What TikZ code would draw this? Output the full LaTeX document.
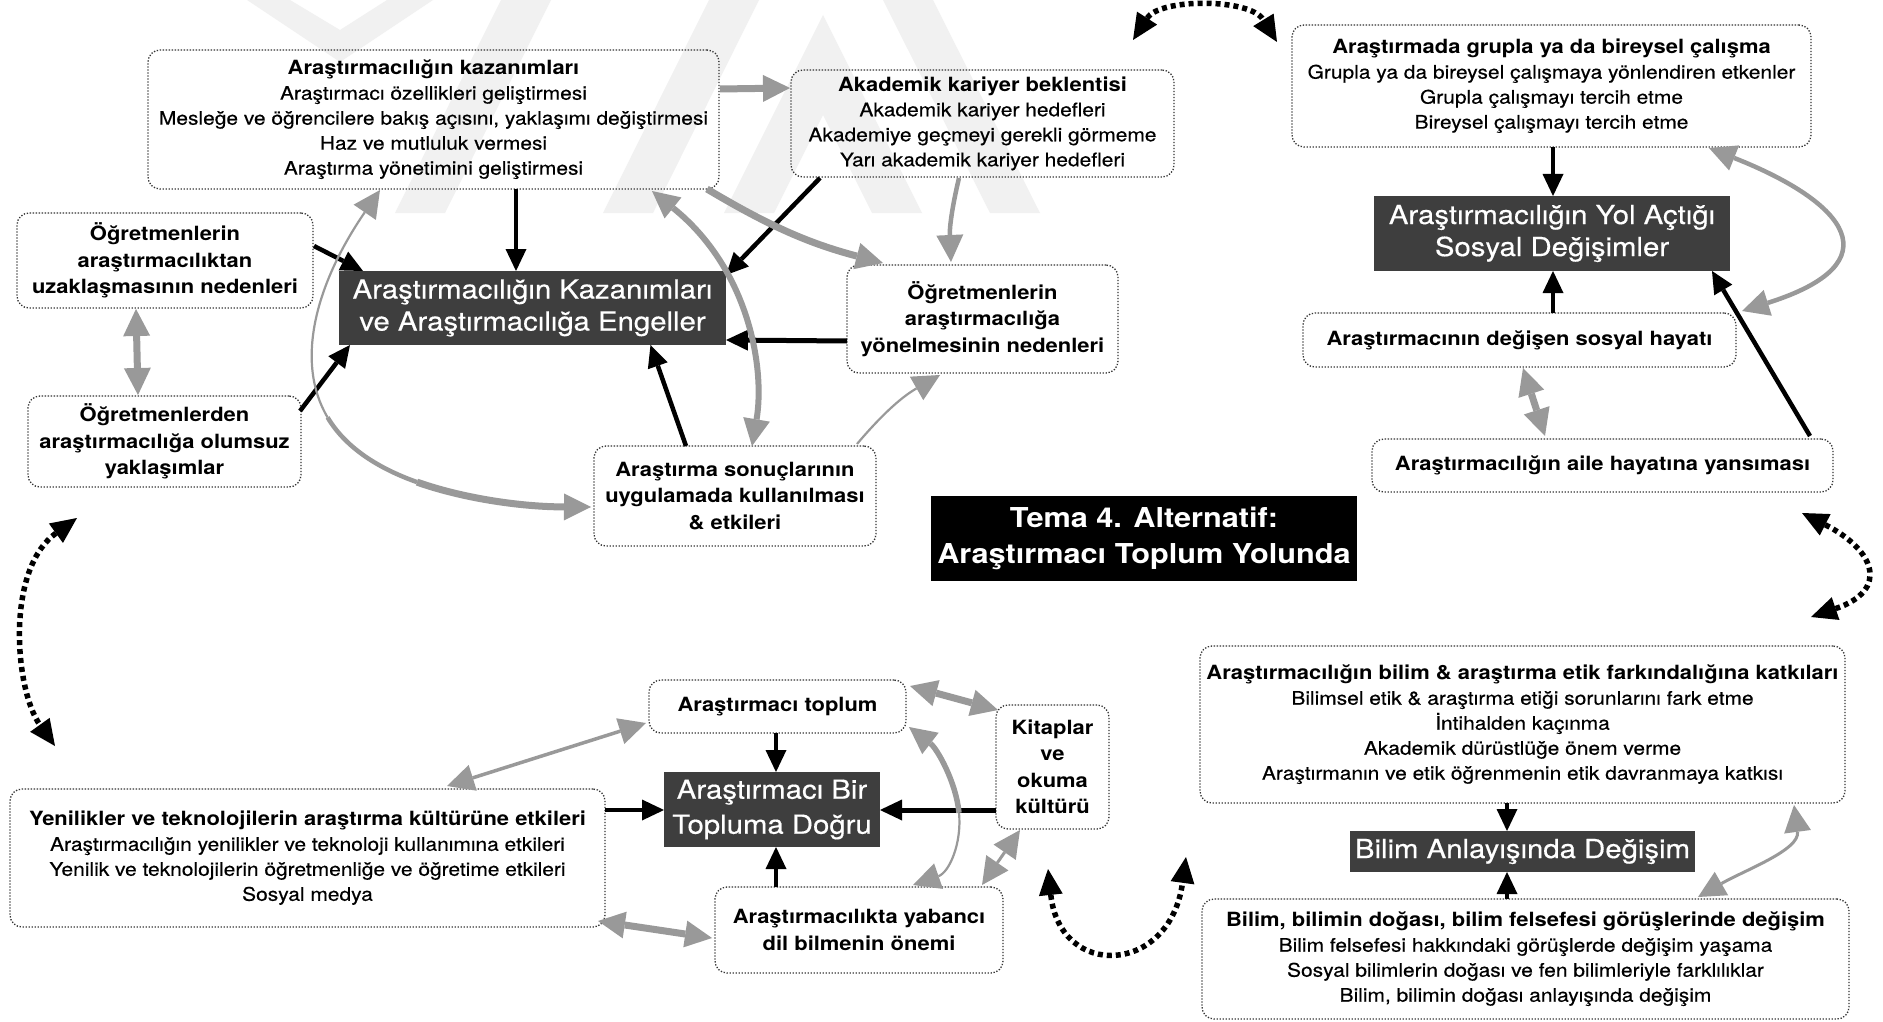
\documentclass[tikz,border=0pt]{standalone}
\usepackage{fontspec}
\setmainfont{TeX Gyre Heros}[FakeStretch=1.12, UprightFeatures={FakeBold=0.4}]
\usetikzlibrary{arrows.meta,calc}

\definecolor{arrgray}{RGB}{153,153,153}
\definecolor{boxdark}{RGB}{62,62,62}
\definecolor{markgray}{RGB}{241,241,241}

\newcommand\boxhead[1]{{\fontsize{19.6pt}{25pt}\selectfont\bfseries #1}}

\tikzset{
  infobox/.style={draw=black!80, line width=1.3pt, dash pattern=on 1.3pt off 1.7pt,
    rounded corners=12pt, font=\fontsize{18.7pt}{25pt}\selectfont},
  keybox/.style={infobox, font=\fontsize{19.6pt}{26.5pt}\selectfont\bfseries},
  hub/.style={fill=boxdark, text=white, font=\fontsize{26.2pt}{32pt}\selectfont},
  blk/.style={draw=black, line width=4.5pt, -{Triangle[length=22pt,width=21pt,line width=0pt]}},
  gline/.style={draw=arrgray, >={Triangle[length=27pt,width=27pt,line width=0pt]}},
  gthick/.style={gline, line width=7pt},
  gmid/.style={gline, line width=4.5pt},
  gthin/.style={gline, line width=2.2pt},
  dotarr/.style={draw=black, line width=5.5pt, dash pattern=on 5pt off 4pt,
    >={Triangle[length=26pt,width=24pt,line width=0pt]}, <->},
}

\begin{document}
\begin{tikzpicture}[x=1pt,y=-1pt,
  every node/.style={inner sep=0pt, outer sep=0pt, align=center}]

\useasboundingbox (0,0) rectangle (1883,1022);
\fill[white] (0,0) rectangle (1883,1022);

% faint striped logo in the top band
\fill[markgray] (247,0) -- (290,0) -- (340,30) -- (387,0) -- (433,0) -- (340,62) -- cycle;
\fill[markgray] (395,213) -- (445,213) -- (551,0) -- (501,0) -- cycle;
\fill[markgray] (603,213) -- (653,213) -- (759,0) -- (709,0) -- cycle;
\fill[markgray] (823,15) -- (922,213) -- (872,213) -- (823,115) -- (774,213) -- (724,213) -- cycle;
\fill[markgray] (883,0) -- (933,0) -- (1040,213) -- (990,213) -- cycle;

% ---------- upper left cluster ----------
\node[infobox, minimum width=571pt, minimum height=139pt] (A) at (433.5,119.5)
  {\boxhead{Araştırmacılığın kazanımları}\\
   Araştırmacı özellikleri geliştirmesi\\
   Mesleğe ve öğrencilere bakış açısını, yaklaşımı değiştirmesi\\
   Haz ve mutluluk vermesi\\
   Araştırma yönetimini geliştirmesi};
\node[infobox, minimum width=383pt, minimum height=107pt] (B) at (982.5,123.5)
  {\boxhead{Akademik kariyer beklentisi}\\
   Akademik kariyer hedefleri\\
   Akademiye geçmeyi gerekli görmeme\\
   Yarı akademik kariyer hedefleri};
\node[keybox, minimum width=296pt, minimum height=95pt] (C) at (165,260.5)
  {Öğretmenlerin\\araştırmacılıktan\\uzaklaşmasının nedenleri};
\node[keybox, minimum width=273pt, minimum height=91pt] (D) at (164.5,441.5)
  {Öğretmenlerden\\araştırmacılığa olumsuz\\yaklaşımlar};
\node[hub, minimum width=387pt, minimum height=74pt] (E) at (532.5,308)
  {Araştırmacılığın Kazanımları\\ve Araştırmacılığa Engeller};
\node[keybox, minimum width=271pt, minimum height=108pt] (F) at (982.5,319)
  {Öğretmenlerin\\araştırmacılığa\\yönelmesinin nedenleri};
\node[keybox, minimum width=282pt, minimum height=100pt] (G) at (735,496)
  {Araştırma sonuçlarının\\uygulamada kullanılması\\\& etkileri};

% ---------- upper right cluster ----------
\node[infobox, minimum width=519pt, minimum height=122pt] (H) at (1551.5,86)
  {\boxhead{Araştırmada grupla ya da bireysel çalışma}\\
   Grupla ya da bireysel çalışmaya yönlendiren etkenler\\
   Grupla çalışmayı tercih etme\\
   Bireysel çalışmayı tercih etme};
\node[hub, minimum width=356pt, minimum height=75pt] (I) at (1552,233.5)
  {Araştırmacılığın Yol Açtığı\\Sosyal Değişimler};
\node[keybox, minimum width=433pt, minimum height=54pt] (J) at (1519.5,340)
  {Araştırmacının değişen sosyal hayatı};
\node[keybox, minimum width=461pt, minimum height=53pt] (K) at (1602.5,465.5)
  {Araştırmacılığın aile hayatına yansıması};

% ---------- theme title ----------
\node[fill=black, text=white, font=\fontsize{27.4pt}{36.5pt}\selectfont\bfseries,
  minimum width=426pt, minimum height=85pt] (T) at (1144,538.5)
  {Tema 4. Alternatif:\\Araştırmacı Toplum Yolunda};

% ---------- lower right cluster ----------
\node[infobox, minimum width=645pt, minimum height=157pt] (L) at (1522.5,724.5)
  {\boxhead{Araştırmacılığın bilim \& araştırma etik farkındalığına katkıları}\\
   Bilimsel etik \& araştırma etiği sorunlarını fark etme\\
   İntihalden kaçınma\\
   Akademik dürüstlüğe önem verme\\
   Araştırmanın ve etik öğrenmenin etik davranmaya katkısı};
\node[hub, minimum width=345pt, minimum height=41pt] (M) at (1522.5,851.5)
  {Bilim Anlayışında Değişim};
\node[infobox, minimum width=647pt, minimum height=120pt] (N) at (1525.5,959)
  {\boxhead{Bilim, bilimin doğası, bilim felsefesi görüşlerinde değişim}\\
   Bilim felsefesi hakkındaki görüşlerde değişim yaşama\\
   Sosyal bilimlerin doğası ve fen bilimleriyle farklılıklar\\
   Bilim, bilimin doğası anlayışında değişim};

% ---------- lower left cluster ----------
\node[keybox, minimum width=257pt, minimum height=53pt] (O) at (777.5,706.5)
  {Araştırmacı toplum};
\node[hub, font=\fontsize{26.2pt}{35pt}\selectfont, minimum width=216pt, minimum height=75pt] (P) at (772,809.5)
  {Araştırmacı Bir\\Topluma Doğru};
\node[keybox, minimum width=113pt, minimum height=124pt] (Q) at (1052.5,767)
  {Kitaplar\\ve\\okuma\\kültürü};
\node[infobox, minimum width=595pt, minimum height=138pt] (R) at (307.5,858)
  {\boxhead{Yenilikler ve teknolojilerin araştırma kültürüne etkileri}\\
   Araştırmacılığın yenilikler ve teknoloji kullanımına etkileri\\
   Yenilik ve teknolojilerin öğretmenliğe ve öğretime etkileri\\
   Sosyal medya};
\node[keybox, minimum width=288pt, minimum height=86pt] (S) at (859,930)
  {Araştırmacılıkta yabancı\\dil bilmenin önemi};

% ---------- connectors: upper left ----------
\draw[blk] ($(A.south)+(82.5,0)$) -- ($(E.north)+(-16.5,0)$);
\draw[blk] ($(C.east)+(1,-14.5)$) -- ($(E.north west)+(24,0)$);
\draw[blk] ($(D.east)+(-1,-30.5)$) -- ($(E.south west)+(11,0)$);
\draw[blk] ($(B.south west)+(29,1)$) -- ($(E.north east)+(0,4)$);
\draw[blk, line width=5pt] ($(F.west)+(0,22)$) -- ($(E.east)+(0,32)$);
\draw[blk] ($(G.north west)+(92,0)$) -- ($(E.south)+(118,0)$);

\draw[gthick, ->] ($(A.east)+(1,-30.5)$) -- ($(B.west)+(-1,-35.5)$);
\draw[gthick, ->] ($(A.south east)+(-12,0)$) to[bend right=8] ($(F.north west)+(36,-2)$);
\draw[gmid, ->] ($(B.south)+(-23.5,1)$) to[bend right=8] ($(F.north)+(-31.5,-3)$);
\draw[gthin, ->] ($(G.north east)+(-19,-2)$) to[bend left=10] ($(F.south)+(-42.5,2)$);
\draw[gthick, <->] ($(C.south)+(-29,1)$) -- ($(D.north)+(-26.5,-1)$);

% the long loop from the gains box round to the results box, widening as it goes
\draw[gthin, <-] ($(A.south)+(-53.5,1)$) .. controls (315,285) and (295,362.5) .. (327.6,417.4);
\draw[gmid] (327.6,417.4) .. controls (343.9,444.8) and (373.4,466.6) .. (417,482.1);
\draw[gthick, ->] (417,482.1) .. controls (460.6,497.6) and (518.3,506.8) .. ($(G.west)+(-3,11)$);

\draw[gthick, line width=6pt, <->] ($(A.south)+(218.5,2)$) .. controls (750,270) and (765,370) .. ($(G.north)+(17,0)$);

% ---------- connectors: upper right ----------
\draw[blk] ($(H.south)+(1.5,0)$) -- ($(I.north)+(1,0)$);
\draw[blk] ($(J.north)+(33.5,0)$) -- ($(I.south)+(1,0)$);
\draw[blk] ($(K.north east)+(-23,-3)$) -- ($(I.south east)+(-18,0)$);
\draw[gmid, <->] ($(H.south east)+(-102,1)$) .. controls (1848,203) and (1894,263) .. ($(J.north east)+(6,-2)$);
\draw[gthick, <->] ($(J.south)+(3.5,1)$) -- ($(K.north)+(-57.5,-3)$);

% ---------- connectors: lower left ----------
\draw[blk] ($(O.south)+(-1.5,0)$) -- ($(P.north)+(4,0)$);
\draw[blk] ($(S.north)+(-83,0)$) -- ($(P.south)+(4,0)$);
\draw[blk] ($(R.east)+(0,-48)$) -- ($(P.west)+(0,0.5)$);
\draw[blk, line width=5pt] ($(Q.west)+(0,43)$) -- ($(P.east)+(0,0.5)$);
\draw[gmid, line width=3.5pt, <->] ($(R.north)+(139.5,-3)$) -- ($(O.west)+(-3,16.5)$);
\draw[gthick, <->] ($(R.south east)+(-7,-6)$) -- ($(S.west)+(-3,8)$);
\draw[gthick, <->] ($(O.north east)+(4,6)$) -- ($(Q.north west)+(2,5)$);
% loop between the society box and the language box, heavy at its upper end
\draw[gthick, line width=5.5pt, <-] ($(O.south east)+(3,-6)$) .. controls (937,748.5) and (956,781.75) .. (959,812.75);
\draw[gthin, ->] (959,812.75) .. controls (962,843.75) and (949,872.5) .. ($(S.north)+(54,-2)$);
\draw[gthin, line width=3pt, <->] ($(S.north east)+(-21,-2)$) -- ($(Q.south)+(-32.5,1)$);

% ---------- connectors: lower right ----------
\draw[blk] ($(L.south)+(-15.5,0)$) -- ($(M.north)+(-15.5,0)$);
\draw[blk] ($(N.north)+(-18.5,0)$) -- ($(M.south)+(-15.5,0)$);
\draw[gthin, line width=3pt, <->] ($(N.north)+(172.5,-2)$) .. controls (1745,870) and (1800,850) .. ($(L.south east)+(-51,2)$);

% ---------- dotted links between the four groups ----------
\coordinate (tl) at (1133,40);
\coordinate (tr) at (1277,42);
\draw[dotarr] (tl) .. controls (1160,-2) and (1250,-2) .. (tr);
\coordinate (rt) at (1802,513);
\coordinate (rb) at (1811,617);
\draw[dotarr] (rt) .. controls (1875,550) and (1890,590) .. (rb);
\coordinate (bl) at (1048,869);
\coordinate (br) at (1186,857);
\draw[dotarr] (bl) .. controls (1060,980) and (1170,975) .. (br);
\coordinate (lt) at (77,518);
\coordinate (lb) at (55,746);
\draw[dotarr] (lt) .. controls (5,570) and (15,690) .. (lb);

\end{tikzpicture}
\end{document}
